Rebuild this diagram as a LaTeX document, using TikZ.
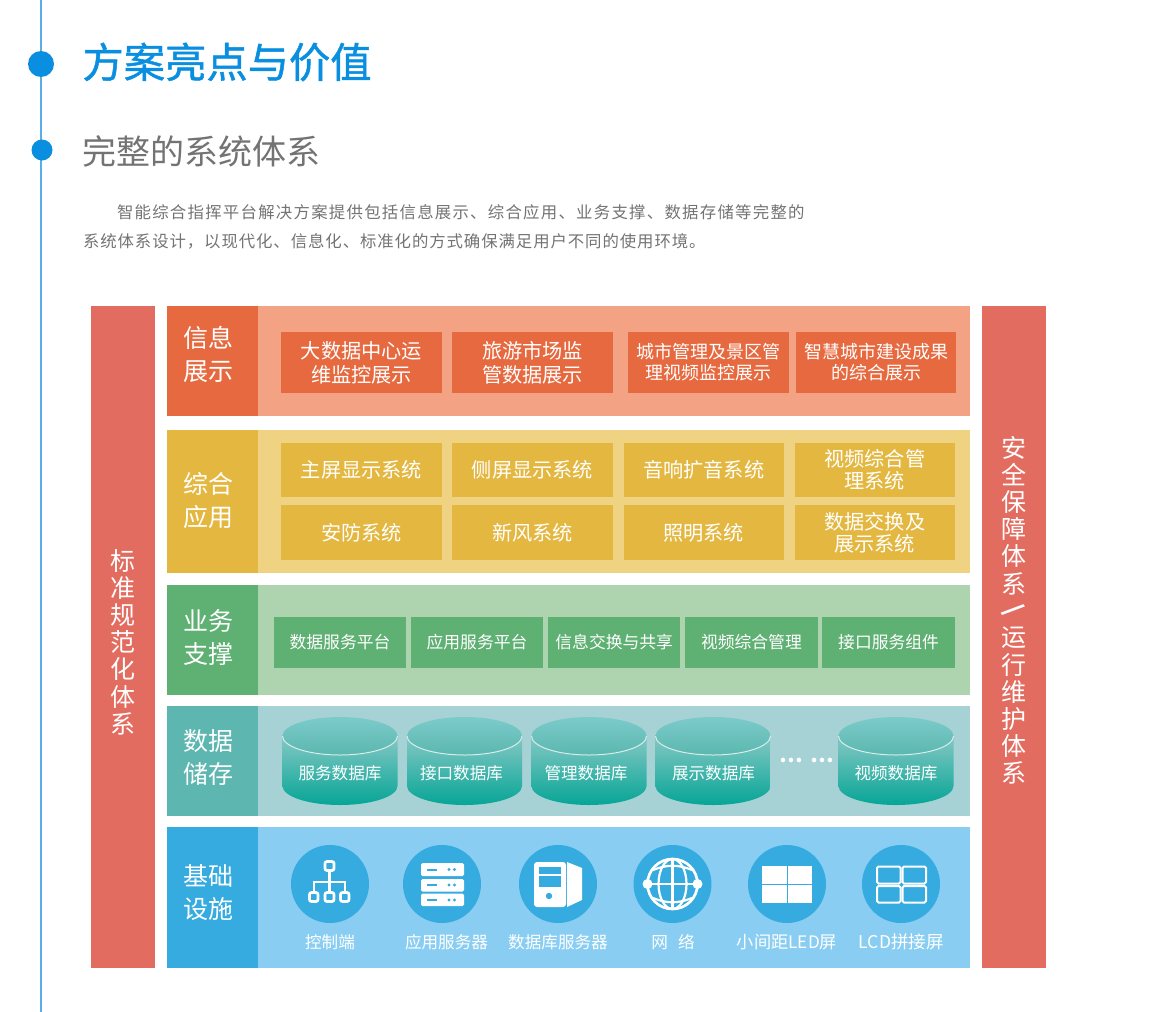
\documentclass[tikz,border=0pt]{standalone}
\usepackage{fontspec}
\setmainfont{Noto Sans CJK SC}
\newfontfamily\parafont[LetterSpace=7.7]{Noto Sans CJK SC}
\newfontfamily\parbfont[LetterSpace=5.6]{Noto Sans CJK SC}
\newfontfamily\titlefont[FakeBold=1.2]{Noto Sans CJK SC}
\usetikzlibrary{positioning}

\definecolor{sidered}{HTML}{E26C60}
\definecolor{dotblue}{HTML}{0A8FE0}
\definecolor{lineblue}{HTML}{59AEEA}
\definecolor{infohead}{HTML}{E7693F}
\definecolor{infoband}{HTML}{F4A284}
\definecolor{apphead}{HTML}{E3B740}
\definecolor{appband}{HTML}{EFD282}
\definecolor{bizhead}{HTML}{5FB073}
\definecolor{bizband}{HTML}{ADD3AF}
\definecolor{datahead}{HTML}{5DB6B0}
\definecolor{databand}{HTML}{A6D2D6}
\definecolor{basehead}{HTML}{35ABE0}
\definecolor{baseband}{HTML}{89CEF2}
\definecolor{drumtop}{HTML}{7CCBCB}
\definecolor{drummid}{HTML}{5BB7AE}
\definecolor{bodytop}{HTML}{85C8C4}
\definecolor{bodyend}{HTML}{06A596}

\tikzset{
    flat/.style={inner sep=0pt, outer sep=0pt, align=center},
    sidebar/.style={flat, fill=sidered, minimum width=64pt, minimum height=662pt},
    sidetext/.style={flat, text=white, font=\fontsize{25}{27.2}\selectfont},
    band/.style={flat, minimum width=712pt, anchor=west},
    head/.style={flat, minimum width=91pt, anchor=west},
    headtext/.style={flat, text=white, font=\fontsize{25}{33}\selectfont},
    bigbox/.style={flat, text=white, minimum width=161pt, font=\fontsize{20.2}{24}\selectfont},
    smallbox/.style={flat, fill=bizhead, text=white, minimum width=132.5pt, minimum height=51pt,
        font=\fontsize{16.8}{20}\selectfont},
    disc/.style={flat, circle, fill=basehead, minimum size=78pt},
    caption/.style={flat, text=white, font=\fontsize{16.6}{20}\selectfont},
    glyph/.style={draw=white, line width=2.7pt},
}

% database drum: name, centre x, text x, text
\newcommand{\dbdrum}[4]{
    \shade[top color=bodytop, bottom color=bodyend]
        (#2-57.5,736) -- (#2-57.5,786) arc[start angle=180, end angle=360, x radius=57.5pt, y radius=19pt]
        -- (#2+57.5,736) -- cycle;
    \shade[top color=drumtop, bottom color=drummid]
        (#2,736) ellipse[x radius=57.5pt, y radius=19pt];
    \draw[white!75!datahead, line width=1pt]
        (#2-57.5,736) arc[start angle=180, end angle=360, x radius=57.5pt, y radius=19pt];
    \node[caption] (#1) at (#3,773) {#4};
}

\begin{document}
\begin{tikzpicture}[x=1pt, y=-1pt]
    \useasboundingbox (0,0) rectangle (1170,1012);

    % title column
    \coordinate (railtop) at (41,0);
    \coordinate (railend) at (41,1012);
    \draw[lineblue, line width=1.2pt] (railtop) -- (railend);
    \fill[dotblue] (41,64) circle[radius=13pt];
    \fill[dotblue] (42,150) circle[radius=10.5pt];
    \node[flat, anchor=west, text=dotblue, font=\titlefont\fontsize{41.3}{41}\selectfont] (title) at (82.5,62) {方案亮点与价值};
    \node[flat, anchor=west, text=black!55, font=\fontsize{34}{34}\selectfont] (subtitle) at (82,151) {完整的系统体系};
    \node[flat, anchor=west, text=black!55, font=\parafont\fontsize{16.4}{16}\selectfont] (para1) at (117,212) {智能综合指挥平台解决方案提供包括信息展示、综合应用、业务支撑、数据存储等完整的};
    \node[flat, anchor=west, text=black!55, font=\parbfont\fontsize{16.4}{16}\selectfont] (para2) at (83,241.5) {系统体系设计，以现代化、信息化、标准化的方式确保满足用户不同的使用环境。};

    % side bars
    \node[sidebar] (standard) at (123,637) {};
    \node[sidebar] (safety) at (1014,637) {};
    \node[sidetext] (standardtext) at (123,642) {标\\准\\规\\范\\化\\体\\系};
    \node[sidetext] (safetytop) at (1014,515.5) {安\\全\\保\\障\\体\\系};
    \node[sidetext, rotate=-57, font=\fontsize{24}{24}\selectfont\bfseries] (safetybar) at (1013,610) {/};
    \node[sidetext] (safetyend) at (1014,706) {运\\行\\维\\护\\体\\系};

    % bands
    \node[band, fill=infoband, minimum height=110pt] (infoband) at (258,361) {};
    \node[band, fill=appband, minimum height=143pt] (appband) at (258,501.5) {};
    \node[band, fill=bizband, minimum height=110pt] (bizband) at (258,640) {};
    \node[band, fill=databand, minimum height=110pt] (databand) at (258,761) {};
    \node[band, fill=baseband, minimum height=141pt] (baseband) at (258,897.5) {};
    \node[head, fill=infohead, minimum height=110pt] (infohead) at (167,361) {};
    \node[head, fill=apphead, minimum height=143pt] (apphead) at (167,501.5) {};
    \node[head, fill=bizhead, minimum height=110pt] (bizhead) at (167,640) {};
    \node[head, fill=datahead, minimum height=110pt] (datahead) at (167,761) {};
    \node[head, fill=basehead, minimum height=141pt] (basehead) at (167,897.5) {};
    \node[headtext] (infotext) at (208,354.5) {信息\\展示};
    \node[headtext] (apptext) at (208,500.5) {综合\\应用};
    \node[headtext] (biztext) at (208,637.5) {业务\\支撑};
    \node[headtext] (datatext) at (208,757) {数据\\储存};
    \node[headtext] (basetext) at (208,893) {基础\\设施};

    % info row
    \tikzset{infobox/.style={bigbox, fill=infohead, minimum height=61pt}}
    \node[infobox] (i1) at (361.5,362.5) {大数据中心运\\维监控展示};
    \node[infobox, right=10pt of i1] (i2) {旅游市场监\\管数据展示};
    \node[infobox, right=15pt of i2, font=\fontsize{18}{21}\selectfont] (i3) {城市管理及景区管\\理视频监控展示};
    \node[infobox, right=7pt of i3, minimum width=160pt, font=\fontsize{18}{21}\selectfont] (i4) {智慧城市建设成果\\的综合展示};

    % app rows
    \tikzset{appbox/.style={bigbox, fill=apphead, minimum height=54.5pt, font=\fontsize{20.2}{22}\selectfont}}
    \node[appbox] (a1) at (361.5,470) {主屏显示系统};
    \node[appbox, right=10pt of a1] (a2) {侧屏显示系统};
    \node[appbox, right=10.5pt of a2, minimum width=160.5pt] (a3) {音响扩音系统};
    \node[appbox, right=10.5pt of a3, minimum width=160.5pt] (a4) {视频综合管\\理系统};
    \node[appbox, below=8pt of a1] (a5) {安防系统};
    \node[appbox, below=8pt of a2] (a6) {新风系统};
    \node[appbox, below=8pt of a3, minimum width=160.5pt] (a7) {照明系统};
    \node[appbox, below=8pt of a4, minimum width=160.5pt] (a8) {数据交换及\\展示系统};

    % service row
    \node[smallbox] (s1) at (340,642.5) {数据服务平台};
    \node[smallbox, right=4.5pt of s1] (s2) {应用服务平台};
    \node[smallbox, right=4.7pt of s2] (s3) {信息交换与共享};
    \node[smallbox, right=4.7pt of s3] (s4) {视频综合管理};
    \node[smallbox, right=4.7pt of s4] (s5) {接口服务组件};

    % storage row
    \dbdrum{d1}{340}{340}{服务数据库}
    \dbdrum{d2}{464.5}{461.5}{接口数据库}
    \dbdrum{d3}{589}{586}{管理数据库}
    \dbdrum{d4}{713}{713.5}{展示数据库}
    \dbdrum{d5}{896}{896}{视频数据库}
    \node[flat, text=white, font=\fontsize{21}{21}\selectfont\bfseries] (more) at (806.5,760) {…\hspace{7pt}…};

    % base row
    \node[disc] (c1) at (330,884) {};
    \node[disc] (c2) at (442,884) {};
    \node[disc] (c3) at (558,884) {};
    \node[disc] (c4) at (672.5,884) {};
    \node[disc] (c5) at (787,884) {};
    \node[disc] (c6) at (901,884) {};
    \node[caption] (t1) at (330,942) {控制端};
    \node[caption] (t2) at (446.5,942) {应用服务器};
    \node[caption] (t3) at (558,942) {数据库服务器};
    \node[caption] (t4) at (673,942) {网\hspace{10pt}络};
    \node[caption, font=\fontsize{17.2}{20}\selectfont] (t5) at (787,942) {小间距LED屏};
    \node[caption, font=\fontsize{17.6}{20}\selectfont] (t6) at (901.5,942) {LCD拼接屏};

    % tree icon
    \draw[glyph, rounded corners=2pt] (325,861.5) rectangle (334,870.5);
    \draw[glyph, rounded corners=2pt] (309.5,892.5) rectangle (318,901.5);
    \draw[glyph, rounded corners=2pt] (325,892.5) rectangle (334,901.5);
    \draw[glyph, rounded corners=2pt] (340.5,892.5) rectangle (349,901.5);
    \draw[glyph] (329.5,871) -- (329.5,892);
    \draw[glyph] (314,892) -- (314,882) -- (345,882) -- (345,892);

    % rack icon
    \fill[white, rounded corners=1.5pt] (421,863) rectangle (464,876);
    \fill[white, rounded corners=1.5pt] (421,879) rectangle (464,891.5);
    \fill[white, rounded corners=1.5pt] (421,893.5) rectangle (464,906);
    \foreach \y in {869.5,885,900} {
        \fill[basehead] (427,\y-1) rectangle (437,\y+1);
        \fill[basehead] (449,\y) circle[radius=1.6pt];
        \fill[basehead] (454.5,\y) circle[radius=1.6pt];
    }

    % tower icon
    \fill[white, rounded corners=3pt] (534,862) rectangle (566,907);
    \fill[basehead] (539,867) rectangle (561,874);
    \fill[basehead] (539,876) rectangle (561,887);
    \fill[basehead] (549,896) circle[radius=3.2pt];
    \fill[white] (567,862) -- (582,868) -- (582,900) -- (567,907) -- cycle;

    % globe icon
    \draw[glyph] (672.5,884) circle[radius=25pt];
    \draw[glyph, line width=2.2pt] (672.5,884) ellipse[x radius=14pt, y radius=25pt];
    \draw[glyph, line width=2.2pt] (672.5,859) -- (672.5,909);
    \draw[glyph, line width=2.2pt] (647,884) -- (698,884);
    \draw[glyph, line width=2.2pt] (653,870) to[bend left=22] (692,870);
    \draw[glyph, line width=2.2pt] (653,898) to[bend right=22] (692,898);
    \fill[white] (647.5,884) circle[radius=5pt];
    \fill[white] (697.5,884) circle[radius=5pt];

    % screen icons
    \fill[white] (762,866) rectangle (812,903);
    \draw[basehead, line width=1pt] (787,866) -- (787,903);
    \draw[basehead, line width=1pt] (762,884.5) -- (812,884.5);
    \draw[glyph, line width=2pt, rounded corners=1.5pt] (877,866.5) rectangle (900.5,883.5);
    \draw[glyph, line width=2pt, rounded corners=1.5pt] (902.5,866.5) rectangle (926,883.5);
    \draw[glyph, line width=2pt, rounded corners=1.5pt] (877,886) rectangle (900.5,902.5);
    \draw[glyph, line width=2pt, rounded corners=1.5pt] (902.5,886) rectangle (926,902.5);
\end{tikzpicture}
\end{document}
